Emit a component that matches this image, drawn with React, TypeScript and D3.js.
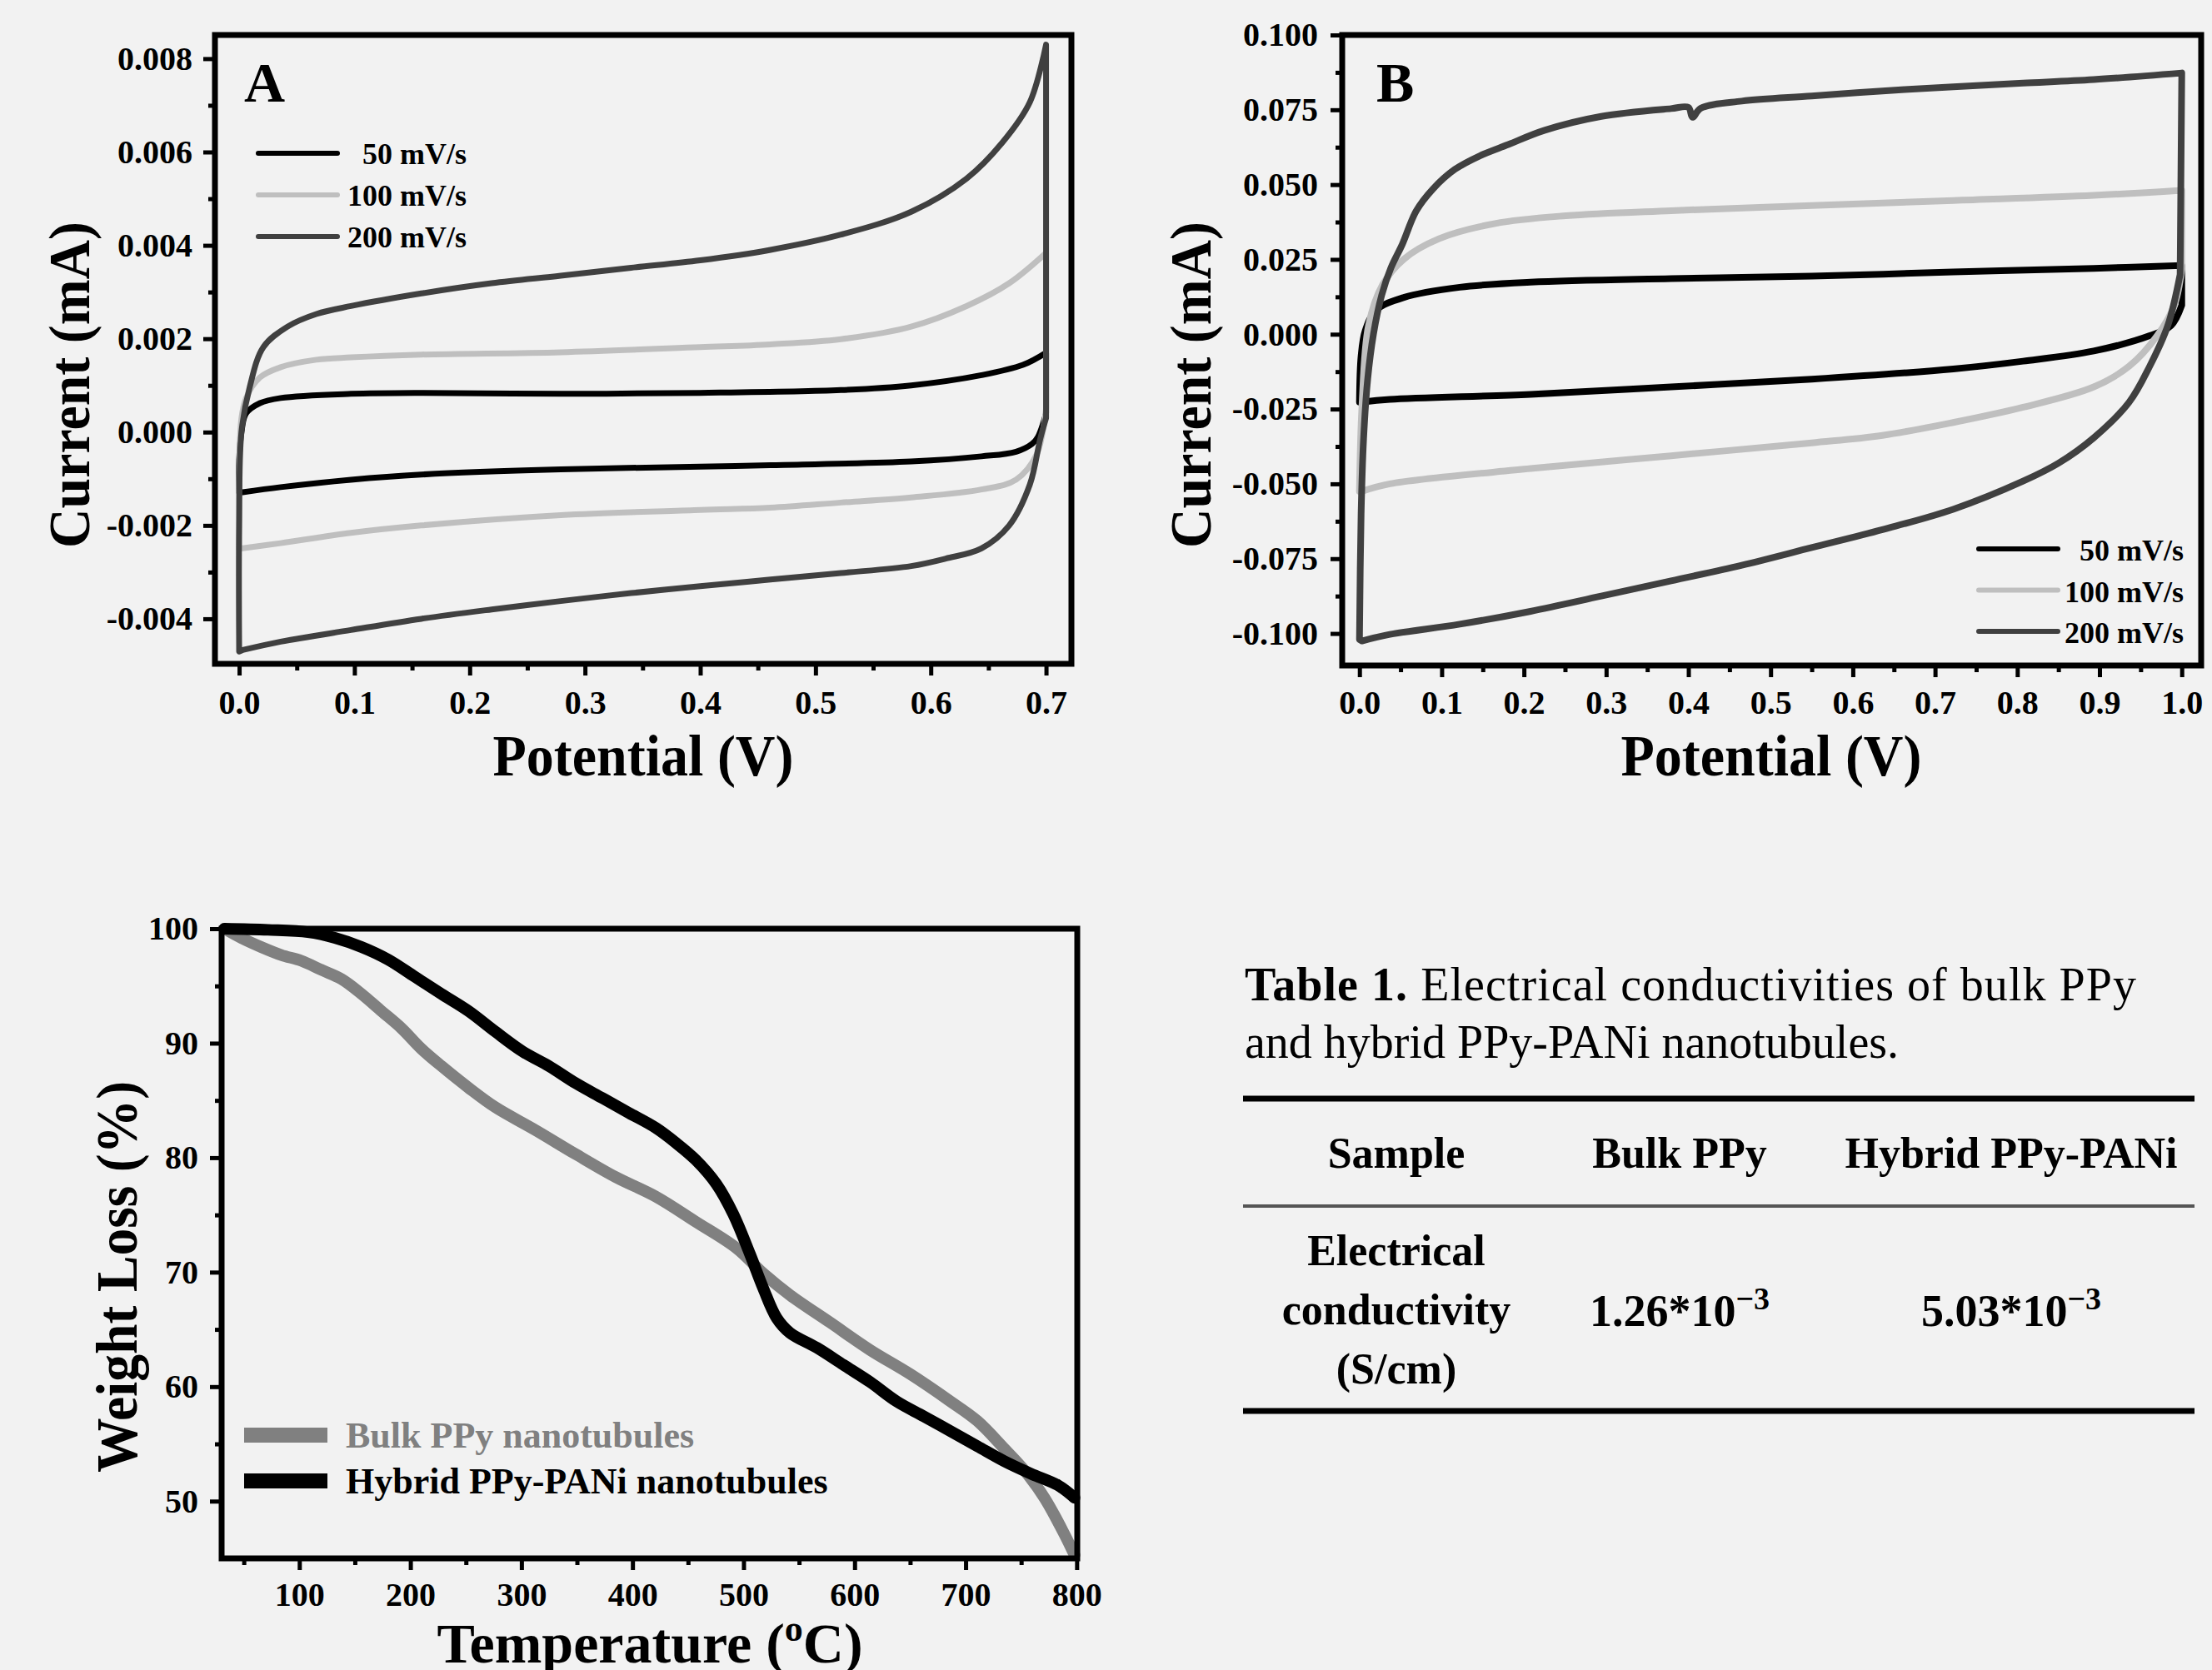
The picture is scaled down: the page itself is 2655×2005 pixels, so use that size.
import React, { useRef, useEffect } from "react";
import * as d3 from "d3";

type Pt = [number, number];

const W = 2655;
const H = 2005;
const SERIF = '"Liberation Serif", "Times New Roman", Times, serif';
const BG = "#f2f2f2";

// CV loops: [potential (V), current (mA)], anodic sweep then cathodic sweep back
const scanRates = ["50 mV/s", "100 mV/s", "200 mV/s"];
const scanColors = ["#000000", "#bfbfbf", "#404040"];

const cvA50: Pt[] = [
  [0, -0.0013], [0, -0.0006], [0.002, 0], [0.006, 0.0004], [0.018, 0.00062], [0.036, 0.00073],
  [0.097, 0.00082], [0.158, 0.00084], [0.279, 0.00082], [0.4, 0.00084], [0.522, 0.0009],
  [0.583, 0.001], [0.644, 0.00122], [0.68, 0.00144], [0.7, 0.0017],
  [0.7, 0.0004], [0.693, -0.0001], [0.688, -0.00025], [0.674, -0.00042], [0.644, -0.00052],
  [0.583, -0.00063], [0.461, -0.00071], [0.4, -0.00074], [0.279, -0.0008], [0.158, -0.00091],
  [0.097, -0.00102], [0.036, -0.00118], [0.003, -0.00129],
];
const cvA100: Pt[] = [
  [0, -0.0025], [0, -0.001], [0.002, 0.0003], [0.006, 0.00073], [0.018, 0.00117], [0.036, 0.00139],
  [0.067, 0.00155], [0.097, 0.0016], [0.158, 0.00166], [0.279, 0.00171], [0.4, 0.00182],
  [0.461, 0.00188], [0.522, 0.00199], [0.583, 0.00226], [0.631, 0.0027], [0.668, 0.00319],
  [0.7, 0.00384],
  [0.7, 0.0005], [0.692, -0.00047], [0.674, -0.00102], [0.644, -0.00123], [0.583, -0.0014],
  [0.522, -0.00151], [0.461, -0.00162], [0.4, -0.00167], [0.279, -0.00178], [0.158, -0.002],
  [0.097, -0.00216], [0.036, -0.00238], [0.003, -0.00249],
];
const cvA200: Pt[] = [
  [0, -0.0047], [0, -0.002], [0.002, 0], [0.009, 0.00095], [0.021, 0.00182], [0.042, 0.00226],
  [0.067, 0.00253], [0.097, 0.0027], [0.158, 0.00297], [0.219, 0.00319], [0.279, 0.00335],
  [0.34, 0.00352], [0.4, 0.00368], [0.46, 0.0039], [0.522, 0.00423], [0.583, 0.00472],
  [0.631, 0.00543], [0.662, 0.0062], [0.686, 0.00707], [0.7, 0.0083],
  [0.7, 0.0003], [0.695, -0.00014], [0.686, -0.00112], [0.668, -0.002], [0.644, -0.00249],
  [0.613, -0.00271], [0.583, -0.00287], [0.522, -0.00302], [0.461, -0.00316], [0.4, -0.0033],
  [0.34, -0.00345], [0.279, -0.00362], [0.219, -0.0038], [0.158, -0.004], [0.097, -0.00424],
  [0.036, -0.00449], [0.003, -0.00467],
];

const cvB50: Pt[] = [
  [0, -0.0227], [0.002, -0.0073], [0.007, 0.0012], [0.02, 0.008], [0.054, 0.0123], [0.122, 0.0157],
  [0.208, 0.0174], [0.379, 0.0186], [0.55, 0.0194], [0.722, 0.0208], [0.893, 0.022], [1.0, 0.023],
  [1.0, 0.0097], [0.987, 0.0029], [0.961, -0.0005], [0.893, -0.0056], [0.807, -0.009],
  [0.722, -0.0116], [0.55, -0.015], [0.379, -0.0176], [0.208, -0.0201], [0.037, -0.0218],
  [0.003, -0.0227],
];
const cvB100: Pt[] = [
  [0, -0.0525], [0.003, -0.0244], [0.011, 0.0029], [0.028, 0.0165], [0.054, 0.0251],
  [0.0967, 0.0319], [0.165, 0.037], [0.251, 0.0396], [0.379, 0.0413], [0.55, 0.043],
  [0.722, 0.0447], [0.893, 0.0464], [1.0, 0.0481],
  [1.0, 0.0217], [0.991, 0.0097], [0.97, -0.0005], [0.936, -0.0107], [0.893, -0.0176],
  [0.807, -0.0244], [0.722, -0.0295], [0.636, -0.0338], [0.55, -0.0363], [0.379, -0.0406],
  [0.208, -0.0449], [0.037, -0.05], [0.003, -0.0525],
];
const cvB200: Pt[] = [
  [0, -0.102], [0.002, -0.06], [0.005, -0.035], [0.01, -0.015], [0.017, 0], [0.027, 0.013],
  [0.038, 0.022], [0.052, 0.03], [0.069, 0.0412], [0.0895, 0.0486], [0.116, 0.0551],
  [0.147, 0.0597], [0.181, 0.0634], [0.2245, 0.0681], [0.294, 0.0728], [0.379, 0.0754],
  [0.4, 0.0758], [0.405, 0.0725], [0.415, 0.0755], [0.465, 0.0779], [0.55, 0.0796],
  [0.636, 0.0813], [0.722, 0.0827], [0.807, 0.0839], [0.893, 0.0851], [1.0, 0.0873],
  [0.998, 0.02], [0.983, 0.0029], [0.961, -0.0107], [0.936, -0.0227], [0.893, -0.0346],
  [0.85, -0.0431], [0.807, -0.0491], [0.722, -0.0585], [0.636, -0.0653], [0.55, -0.0713],
  [0.465, -0.0772], [0.379, -0.0824], [0.294, -0.0875], [0.208, -0.0926], [0.122, -0.0969],
  [0.037, -0.1003], [0.003, -0.1025],
];

// TGA: [temperature (°C), weight (%)]
const tgaLabels = ["Bulk PPy nanotubules", "Hybrid PPy-PANi nanotubules"];
const tgaColors = ["#808080", "#000000"];
const tgaBulk: Pt[] = [
  [32.5, 100], [47.6, 99.2], [65.6, 98.4], [83.7, 97.7], [101.8, 97.2], [119.9, 96.4], [138, 95.6],
  [156, 94.3], [174, 92.8], [192, 91.3], [210, 89.5], [228, 88.0], [252.5, 86.1], [276.6, 84.4],
  [312.8, 82.4], [349, 80.3], [385, 78.3], [421, 76.6], [457, 74.4], [493.6, 72.1], [517.7, 69.9],
  [541.8, 68.0], [578, 65.6], [614, 63.2], [650, 61.1], [686.5, 58.7], [710.6, 57.0], [734.7, 54.6],
  [752.8, 52.7], [770.9, 50.3], [789, 47.1], [798, 45.3],
];
const tgaHybrid: Pt[] = [
  [32.5, 100], [71.7, 99.9], [107.8, 99.7], [132, 99.2], [156, 98.4], [180, 97.3], [204, 95.8],
  [228, 94.3], [252.5, 92.8], [276.6, 91.0], [300.7, 89.3], [324.8, 88.0], [349, 86.5], [373, 85.2],
  [397, 83.9], [421, 82.6], [439, 81.3], [457, 79.8], [475.5, 77.7], [490.6, 75.1], [505.7, 71.6],
  [517.7, 68.6], [529.8, 66.0], [541.8, 64.7], [566, 63.4], [590, 61.9], [614, 60.4], [638, 58.7],
  [662.5, 57.4], [686.5, 56.1], [710.6, 54.8], [734.7, 53.5], [758.8, 52.4], [782.9, 51.4],
  [798, 50.3],
];

// Table 1
const captionBold = "Table 1.";
const captionRest = " Electrical conductivities of bulk PPy";
const captionLine2 = "and hybrid PPy-PANi nanotubules.";
const tableHead = ["Sample", "Bulk PPy", "Hybrid PPy-PANi"];
const rowLabel = ["Electrical", "conductivity", "(S/cm)"];
const rowValues = ["1.26*10", "5.03*10"];
const rowExp = "\u22123";

function drawPlot(root: any, p: any) {
  const g = root.append("g");
  const x = d3.scaleLinear().domain(p.xDomain).range([p.left, p.right]);
  const y = d3.scaleLinear().domain(p.yDomain).range([p.bottom, p.top]);

  const line = d3
    .line<Pt>()
    .x((d) => x(d[0]))
    .y((d) => y(d[1]))
    .curve(d3.curveCatmullRom.alpha(0.5));

  p.series.forEach((s: any) => {
    let d: string;
    if (s.loop) {
      // split the loop at the vertex (end of anodic sweep) so the turn stays sharp
      const xMax = d3.max(s.data, (q: Pt) => q[0]);
      const k = s.data.findIndex((q: Pt) => q[0] === xMax);
      const fwd = s.data.slice(0, k + 1);
      const rev = s.data.slice(k + 1);
      d = (line(fwd) || "") + (line(rev) || "").replace(/^M/, "L") + "Z";
    } else {
      d = line(s.data) || "";
    }
    g.append("path")
      .attr("d", d)
      .attr("fill", "none")
      .attr("stroke", s.color)
      .attr("stroke-width", p.lineWidth)
      .attr("stroke-linejoin", "round")
      .attr("stroke-linecap", "round");
  });

  const styleAxis = (sel: any) => {
    sel.select(".domain").remove();
    sel.selectAll("line").attr("stroke", "#000").attr("stroke-width", 5);
    sel
      .selectAll("text")
      .attr("fill", "#000")
      .style("font-family", SERIF)
      .style("font-weight", "bold")
      .style("font-size", `${p.tickFont}px`);
  };

  // minor + major ticks
  g.append("g")
    .attr("transform", `translate(0,${p.bottom})`)
    .call(d3.axisBottom(x).tickValues(p.xMinor).tickSize(8).tickFormat(() => ""))
    .call(styleAxis);
  g.append("g")
    .attr("transform", `translate(0,${p.bottom})`)
    .call(d3.axisBottom(x).tickValues(p.xMajor).tickSize(14).tickPadding(p.xPad).tickFormat(p.xFmt))
    .call(styleAxis);
  g.append("g")
    .attr("transform", `translate(${p.left},0)`)
    .call(d3.axisLeft(y).tickValues(p.yMinor).tickSize(8).tickFormat(() => ""))
    .call(styleAxis);
  g.append("g")
    .attr("transform", `translate(${p.left},0)`)
    .call(d3.axisLeft(y).tickValues(p.yMajor).tickSize(14).tickPadding(p.yPad).tickFormat(p.yFmt))
    .call(styleAxis);

  // frame
  g.append("rect")
    .attr("x", p.left)
    .attr("y", p.top)
    .attr("width", p.right - p.left)
    .attr("height", p.bottom - p.top)
    .attr("fill", "none")
    .attr("stroke", "#000")
    .attr("stroke-width", 7);

  return g;
}

function addText(g: any, t: string, x: number, y: number, size: number, opts: any = {}) {
  const el = g
    .append("text")
    .attr("x", x)
    .attr("y", y)
    .attr("fill", opts.color || "#000")
    .attr("text-anchor", opts.anchor || "start")
    .style("font-family", SERIF)
    .style("font-weight", opts.weight || "bold")
    .style("font-size", `${size}px`)
    .text(t);
  if (opts.rotate) el.attr("transform", `rotate(-90,${x},${y})`);
  if (opts.len) el.attr("textLength", opts.len).attr("lengthAdjust", "spacingAndGlyphs");
  return el;
}

export default function App() {
  const svgRef = useRef<SVGSVGElement>(null);

  useEffect(() => {
    const svg = d3.select(svgRef.current);
    svg.selectAll("*").remove();

    svg.append("rect").attr("width", W).attr("height", H).attr("fill", BG);

    // ---------- Panel A ----------
    const gA = drawPlot(svg, {
      left: 258, right: 1286, top: 42, bottom: 797,
      xDomain: [-0.021, 0.722], yDomain: [-0.004965, 0.008507],
      xMajor: d3.range(0, 8).map((i) => i * 0.1),
      xMinor: d3.range(0, 7).map((i) => i * 0.1 + 0.05),
      yMajor: d3.range(-2, 5).map((i) => i * 0.002),
      yMinor: d3.range(-3, 8, 2).map((i) => i * 0.001),
      xFmt: (d: number) => d.toFixed(1),
      yFmt: (d: number) => d.toFixed(3),
      xPad: 18, yPad: 13, tickFont: 40, lineWidth: 7,
      series: [cvA50, cvA100, cvA200].map((data, i) => ({ data, color: scanColors[i], loop: true })),
    });
    addText(gA, "A", 293, 122, 68);
    scanRates.forEach((lab, i) => {
      const yy = 184 + i * 50;
      gA.append("line").attr("x1", 310).attr("x2", 405).attr("y1", yy).attr("y2", yy)
        .attr("stroke", scanColors[i]).attr("stroke-width", 6).attr("stroke-linecap", "round");
      addText(gA, lab, 560, yy + 13, 36, { anchor: "end" });
    });
    addText(gA, "Current (mA)", 107, 462, 70, { anchor: "middle", rotate: true, len: 392 });
    addText(gA, "Potential (V)", 772, 931, 70, { anchor: "middle", len: 361 });

    // ---------- Panel B ----------
    const gB = drawPlot(svg, {
      left: 1611, right: 2642, top: 42, bottom: 799,
      xDomain: [-0.021, 1.0236], yDomain: [-0.1107, 0.1],
      xMajor: d3.range(0, 11).map((i) => i * 0.1),
      xMinor: d3.range(0, 10).map((i) => i * 0.1 + 0.05),
      yMajor: d3.range(-4, 5).map((i) => i * 0.025),
      yMinor: d3.range(-4, 4).map((i) => i * 0.025 + 0.0125),
      xFmt: (d: number) => d.toFixed(1),
      yFmt: (d: number) => d.toFixed(3),
      xPad: 16, yPad: 15, tickFont: 40, lineWidth: 8,
      series: [cvB50, cvB100, cvB200].map((data, i) => ({ data, color: scanColors[i], loop: true })),
    });
    addText(gB, "B", 1652, 122, 68);
    scanRates.forEach((lab, i) => {
      const yy = 659 + i * 49.5;
      gB.append("line").attr("x1", 2375).attr("x2", 2470).attr("y1", yy).attr("y2", yy)
        .attr("stroke", scanColors[i]).attr("stroke-width", 6).attr("stroke-linecap", "round");
      addText(gB, lab, 2621, yy + 14, 36, { anchor: "end" });
    });
    addText(gB, "Current (mA)", 1453, 462, 70, { anchor: "middle", rotate: true, len: 392 });
    addText(gB, "Potential (V)", 2126, 931, 70, { anchor: "middle", len: 361 });

    // ---------- Panel C (TGA) ----------
    const gC = drawPlot(svg, {
      left: 266, right: 1293, top: 1115, bottom: 1871,
      xDomain: [30, 800.5], yDomain: [45, 100],
      xMajor: d3.range(100, 801, 100),
      xMinor: d3.range(50, 800, 100),
      yMajor: d3.range(50, 101, 10),
      yMinor: d3.range(55, 100, 10),
      xFmt: (d: number) => String(d),
      yFmt: (d: number) => String(d),
      xPad: 15, yPad: 14, tickFont: 40, lineWidth: 14,
      series: [tgaBulk, tgaHybrid].map((data, i) => ({ data, color: tgaColors[i], loop: false })),
    });
    tgaLabels.forEach((lab, i) => {
      const yy = 1723 + i * 55;
      gC.append("line").attr("x1", 293).attr("x2", 393).attr("y1", yy).attr("y2", yy)
        .attr("stroke", tgaColors[i]).attr("stroke-width", 18);
      addText(gC, lab, 415, yy + 15, 44, { color: tgaColors[i] });
    });
    addText(gC, "Weight Loss (%)", 164, 1533, 70, { anchor: "middle", rotate: true, len: 470 });
    const tt = gC.append("text")
      .attr("x", 780).attr("y", 1996).attr("text-anchor", "middle").attr("fill", "#000")
      .style("font-family", SERIF).style("font-weight", "bold").style("font-size", "68px");
    tt.append("tspan").text("Temperature (");
    tt.append("tspan").attr("dy", -26).style("font-size", "44px").text("o");
    tt.append("tspan").attr("dy", 26).text("C)");

    // ---------- Table 1 ----------
    const gT = svg.append("g");
    const cap = gT.append("text").attr("x", 1494).attr("y", 1201).attr("fill", "#000")
      .attr("textLength", 1070).attr("lengthAdjust", "spacing")
      .style("font-family", SERIF).style("font-size", "56px");
    cap.append("tspan").style("font-weight", "bold").text(captionBold);
    cap.append("tspan").text(captionRest);
    addText(gT, captionLine2, 1494, 1270, 56, { weight: "normal" });

    const rule = (yy: number, w: number, c: string) =>
      gT.append("line").attr("x1", 1492).attr("x2", 2634).attr("y1", yy).attr("y2", yy)
        .attr("stroke", c).attr("stroke-width", w);
    rule(1319, 7, "#000");
    rule(1448, 4, "#555");
    rule(1694, 7, "#000");

    const colX = [1676, 2016, 2414];
    tableHead.forEach((h, i) => addText(gT, h, colX[i], 1402, 52, { anchor: "middle" }));
    rowLabel.forEach((t, i) => addText(gT, t, colX[0], 1519 + i * 71, 52, { anchor: "middle" }));
    rowValues.forEach((v, i) => {
      const t = gT.append("text").attr("x", colX[i + 1]).attr("y", 1592).attr("text-anchor", "middle")
        .attr("fill", "#000").style("font-family", SERIF).style("font-weight", "bold").style("font-size", "54px");
      t.append("tspan").text(v);
      t.append("tspan").attr("dy", -20).style("font-size", "38px").text(rowExp);
    });
  }, []);

  return (
    <svg
      ref={svgRef}
      width={W}
      height={H}
      style={{ position: "absolute", left: 0, top: 0, display: "block" }}
    />
  );
}
